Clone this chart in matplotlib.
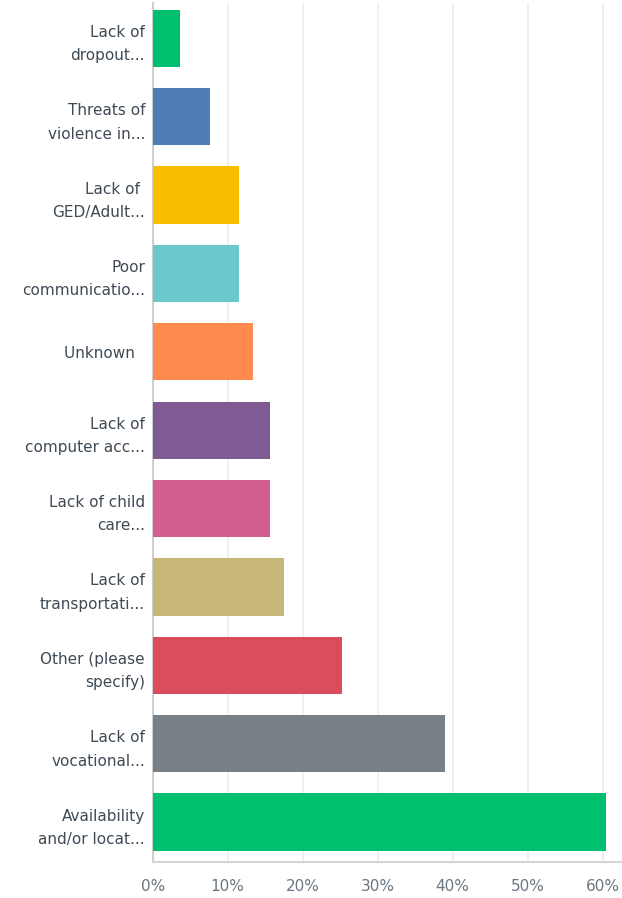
import matplotlib
matplotlib.use("Agg")
import matplotlib.pyplot as plt

categories = [
    "Lack of\ndropout...",
    "Threats of\nviolence in...",
    "Lack of \nGED/Adult...",
    "Poor\ncommunicatio...",
    "Unknown  ",
    "Lack of\ncomputer acc...",
    "Lack of child\ncare...",
    "Lack of\ntransportati...",
    "Other (please\nspecify)",
    "Lack of\nvocational...",
    "Availability\nand/or locat...",
]
percent = [3.6, 7.7, 11.5, 11.5, 13.4, 15.6, 15.6, 17.5, 25.3, 39.0, 60.4]
colors = ["#00bf6f", "#507cb6", "#f9be00", "#6bc8cd", "#ff8b4f", "#7f5a93",
          "#d25f90", "#c7b879", "#db4d5c", "#768086", "#00bf6f"]
xticks = [0, 10, 20, 30, 40, 50, 60]

plt.rcParams["font.family"] = ["DejaVu Sans"]

fig = plt.figure(figsize=(6.22, 8.98), dpi=100)
ax = fig.add_axes([0.2455, 0.04, 0.7545, 0.9567])

y = list(range(len(categories)))
ax.barh(y, percent, height=0.73, color=colors, zorder=3)

ax.set_xlim(0, 62.6)
ax.set_ylim(10.51, -0.45)
ax.set_xticks(xticks)
ax.set_xticklabels([f"{t}%" for t in xticks], fontsize=11, color="#6b7680")
ax.set_yticks(y)
ax.set_yticklabels(categories, fontsize=11, color="#3f4a55", linespacing=1.7)
ax.tick_params(axis="x", length=0, pad=12)
ax.tick_params(axis="y", length=0, pad=5.5)

ax.grid(axis="x", color="#ededed", linewidth=1.2, zorder=0)
for side in ["top", "right"]:
    ax.spines[side].set_visible(False)
ax.spines["left"].set_color("#cfcfcf")
ax.spines["left"].set_linewidth(1.5)
ax.spines["bottom"].set_color("#d5d5d5")
ax.spines["bottom"].set_linewidth(1.5)

fig.savefig("out.png", dpi=100)
